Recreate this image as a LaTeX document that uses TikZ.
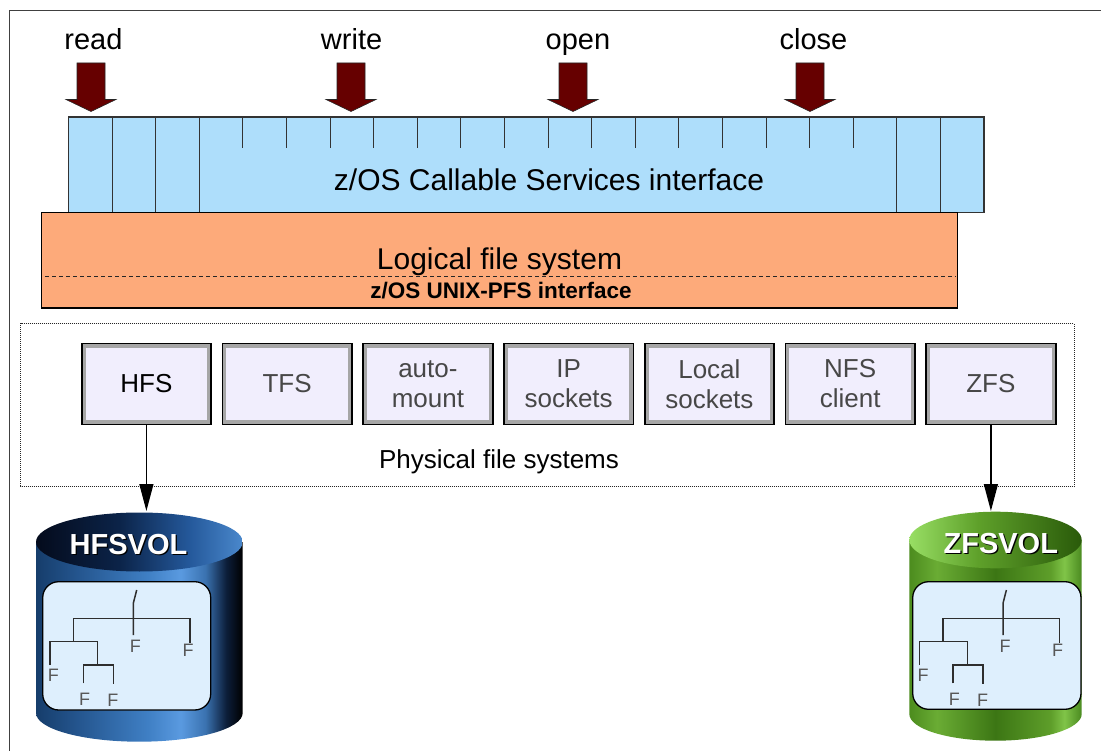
\documentclass[tikz,border=0pt]{standalone}
\usepackage{fontspec}
\setmainfont{Liberation Sans}
\usetikzlibrary{arrows.meta}

\definecolor{cellblue}{HTML}{AEDEFB}
\definecolor{lfsorange}{HTML}{FDAA7A}
\definecolor{arrowred}{HTML}{660000}
\definecolor{pfsfill}{HTML}{F1EEFD}
\definecolor{pfsbevel}{HTML}{A6A6A6}
\definecolor{pfstext}{HTML}{474747}
\definecolor{panelblue}{HTML}{DEEFFD}
\definecolor{treeline}{HTML}{2E2E2E}
\definecolor{ftext}{HTML}{575757}

% colours of the two volumes
\definecolor{hb1}{HTML}{163D6B}
\definecolor{hb2}{HTML}{24558E}
\definecolor{hb3}{HTML}{3F7FC4}
\definecolor{hb4}{HTML}{5A9AE0}
\definecolor{hb5}{HTML}{3A72B0}
\definecolor{hb6}{HTML}{0C1E3A}
\definecolor{hb7}{HTML}{000000}
\definecolor{ht1}{HTML}{040B1C}
\definecolor{ht2}{HTML}{0B2348}
\definecolor{ht3}{HTML}{24589A}
\definecolor{ht4}{HTML}{4A88CC}
\definecolor{zb1}{HTML}{4C8C1E}
\definecolor{zb2}{HTML}{6AAC34}
\definecolor{zb3}{HTML}{3C7614}
\definecolor{zb4}{HTML}{5E9E2A}
\definecolor{zb5}{HTML}{80C448}
\definecolor{zb6}{HTML}{4A8A20}
\definecolor{zt1}{HTML}{98DE64}
\definecolor{zt2}{HTML}{5EA02A}
\definecolor{zt3}{HTML}{2A5A0A}

% cylinder shadings: the 25bp..75bp band spans the filled path
\pgfdeclarehorizontalshading{hfsbody}{100bp}{%
  color(0bp)=(hb1); color(25bp)=(hb1); color(35bp)=(hb2);
  color(52bp)=(hb3); color(60bp)=(hb4); color(66bp)=(hb5);
  color(71bp)=(hb6); color(75bp)=(hb7); color(100bp)=(hb7)}
\pgfdeclarehorizontalshading{hfstop}{100bp}{%
  color(0bp)=(ht1); color(25bp)=(ht1); color(45bp)=(ht2);
  color(62bp)=(ht3); color(75bp)=(ht4); color(100bp)=(ht4)}
\pgfdeclarehorizontalshading{zfsbody}{100bp}{%
  color(0bp)=(zb1); color(25bp)=(zb1); color(33bp)=(zb2);
  color(50bp)=(zb3); color(66bp)=(zb4); color(70bp)=(zb5);
  color(75bp)=(zb6); color(100bp)=(zb6)}
\pgfdeclarehorizontalshading{zfstop}{100bp}{%
  color(0bp)=(zt1); color(25bp)=(zt1); color(45bp)=(zt2);
  color(75bp)=(zt3); color(100bp)=(zt3)}

\tikzset{
  frameline/.style={draw=black!75, line width=1.4pt},
  lbl/.style={font=\fontsize{29}{34}\selectfont, inner sep=0pt, anchor=base},
  biglbl/.style={font=\fontsize{30}{36}\selectfont, inner sep=0pt, anchor=base},
  pfslbl/.style={font=\bfseries\fontsize{22.5}{27}\selectfont, inner sep=0pt, anchor=base},
  cellline/.style={draw=black!80, line width=1pt},
  callarrow/.pic={
    \path[fill=arrowred, draw=black!85, line width=0.6pt]
      (-14,63) -- (14,63) -- (14,99.5) -- (25,99.5) -- (0,111.5)
      -- (-25,99.5) -- (-14,99.5) -- cycle;},
  pfsbox/.style={draw=black, line width=1.8pt, fill=pfsfill,
    minimum width=129.5pt, minimum height=80.8pt, inner sep=0pt,
    align=center, text=pfstext, font=\fontsize{26}{30}\selectfont,
    path picture={\draw[pfsbevel, line width=8pt]
      (path picture bounding box.north west) rectangle
      (path picture bounding box.south east);}},
  mountarrow/.style={draw=black, line width=1.3pt,
    -{Triangle[length=27pt, width=14pt]}},
  panel/.style={fill=panelblue, draw=black, line width=1.3pt, rounded corners=16pt},
  tree/.style={draw=treeline, line width=1.5pt},
  fname/.style={text=ftext, inner sep=0pt, font=\fontsize{18}{20}\selectfont},
  volname/.style={inner sep=0pt, font=\bfseries\fontsize{29}{34}\selectfont}
}

\begin{document}
\begin{tikzpicture}[x=1pt, y=-1pt]
\useasboundingbox (0,0) rectangle (1101,751);
\fill[white] (0,0) rectangle (1101,751);

% outer frame
\draw[frameline] (9.5,751) -- (9.5,10.3) -- (1101,10.3);

% callable services strip
\path[fill=cellblue, draw=black!80, line width=1.2pt] (68.4,117) rectangle (984,212.7);
\foreach \i in {1,2,3,19,20}
  \draw[cellline] (68.4+43.6*\i,117) -- (68.4+43.6*\i,212.7);
\foreach \i in {4,...,18}
  \draw[cellline] (68.4+43.6*\i,117) -- (68.4+43.6*\i,148);
\node[biglbl] (csi) at (549,191) {z/OS Callable Services interface};

% service calls
\pic at (91,0) {callarrow};
\pic at (351,0) {callarrow};
\pic at (573,0) {callarrow};
\pic at (810,0) {callarrow};
\node[lbl] (read) at (93.4,50) {read};
\node[lbl] (write) at (351.6,50) {write};
\node[lbl] (open) at (578,50) {open};
\node[lbl] (close) at (813.5,50) {close};

% logical file system
\path[fill=lfsorange, draw=black, line width=1.2pt] (41.4,212.7) rectangle (957.6,308);
\draw[black!85, line width=1pt, dash pattern=on 4pt off 3pt] (45,276.7) -- (956,276.7);
\node[biglbl] (lfs) at (499.5,269.3) {Logical file system};
\node[pfslbl] (pfsif) at (501,298.3) {z/OS UNIX-PFS interface};

% physical file systems
\draw[black!85, line width=0.9pt, dash pattern=on 1pt off 1pt] (20.7,323.3) rectangle (1074,486.3);
\node[pfsbox, text=black] (hfs) at (146.4,384) {HFS};
\node[pfsbox] (tfs) at (287.15,384) {TFS};
\node[pfsbox] (automount) at (427.9,384) {auto-\\mount};
\node[pfsbox] (ipsock) at (568.65,384) {IP\\sockets};
\node[pfsbox] (localsock) at (709.4,384) {Local\\sockets};
\node[pfsbox] (nfs) at (850.15,384) {NFS\\client};
\node[pfsbox] (zfs) at (990.9,384) {ZFS};
\node[font=\fontsize{26}{30}\selectfont, inner sep=0pt, anchor=base] (pfsname) at (499,468.3) {Physical file systems};

% HFSVOL data set
\shade[shading=hfsbody] (36,542) -- (36,713)
  arc[start angle=180, end angle=0, x radius=103.35, y radius=28.7] -- (242.7,542) -- cycle;
\shade[shading=hfstop] (139.35,542) ellipse[x radius=103.35, y radius=29.5];
\coordinate (hfsvol) at (147.3,511);
\node[volname, text=black] at (129.8,545.8) {HFSVOL};
\node[volname, text=white] (hfsvolname) at (128.5,544.3) {HFSVOL};
\path[panel] (42.7,581.7) rectangle (210.7,710);

% ZFSVOL data set
\shade[shading=zfsbody] (909.3,540) -- (909.3,714)
  arc[start angle=180, end angle=0, x radius=86.2, y radius=26.7] -- (1081.7,540) -- cycle;
\shade[shading=zfstop] (995.5,540) ellipse[x radius=86.2, y radius=28.3];
\coordinate (zfsvol) at (990.9,511);
\node[volname, text=black] at (1002.1,544.8) {ZFSVOL};
\node[volname, text=white] (zfsvolname) at (1000.8,543.3) {ZFSVOL};
\path[panel] (912.7,581.7) rectangle (1081,709.3);

% directory trees on both volumes
\foreach \dx in {0,869.7} {
  \begin{scope}[xshift=\dx]
    \draw[tree] (136.7,590) -- (133.3,603.3) -- (133.3,635);
    \draw[tree] (73.3,641.7) -- (73.3,618.3) -- (190,618.3) -- (190,643);
    \draw[tree] (50,665) -- (50,641.7) -- (97.7,641.7) -- (97.7,665);
    \draw[tree] (83.3,683.3) -- (83.3,665) -- (113.3,665) -- (113.3,684);
    \node[fname] at (135.3,646) {F};
    \node[fname] at (188,650.5) {F};
    \node[fname] at (53.3,675) {F};
    \node[fname] at (84.7,699) {F};
    \node[fname] at (112.8,700.7) {F};
  \end{scope}
}

% mount connectors
\draw[mountarrow] (hfs.south) -- (hfs.south |- hfsvol);
\draw[mountarrow] (zfs.south) -- (zfsvol);
\end{tikzpicture}
\end{document}
